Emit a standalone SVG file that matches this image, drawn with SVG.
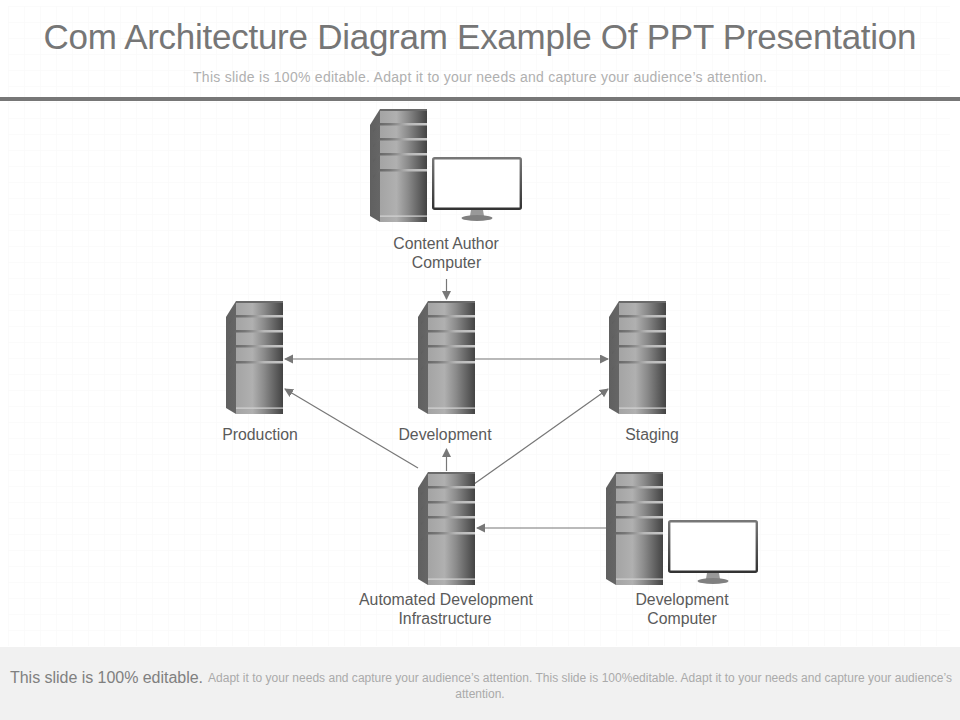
<svg xmlns="http://www.w3.org/2000/svg" xmlns:xlink="http://www.w3.org/1999/xlink" width="960" height="720" viewBox="0 0 960 720">
<style>
text{font-family:"Liberation Sans",Arial,sans-serif}
.label{font-size:15.800px;fill:#5a5a5a;text-anchor:middle}
.conn{stroke:#777;stroke-width:1.2;fill:none;marker-end:url(#arr)}
.band{fill:url(#bandG)}
.small{font-size:12px;fill:#aaa}
</style>
<defs>
<pattern id="grid" width="16" height="16" patternUnits="userSpaceOnUse" x="8" y="6">
<path d="M0 0H16M0 0V16" stroke="#f7f7f7" stroke-width="1" fill="none"/>
</pattern>
<marker id="arr" markerUnits="userSpaceOnUse" markerWidth="9" markerHeight="10" refX="8" refY="4.500" orient="auto">
<path d="M0 0L9 4.500L0 9Z" fill="#777"/>
</marker>
<linearGradient id="front" x1="0" x2="1" y1="0" y2="0">
<stop offset="0" stop-color="#a4a4a4"/><stop offset=".35" stop-color="#b0b0b0"/><stop offset=".6" stop-color="#8a8a8a"/><stop offset="1" stop-color="#434343"/>
</linearGradient>
<linearGradient id="side" x1="0" x2="1" y1="0" y2="0">
<stop offset="0" stop-color="#606060"/><stop offset="1" stop-color="#808080"/>
</linearGradient>
<linearGradient id="bandG" x1="0" x2="1" y1="0" y2="0">
<stop offset="0" stop-color="#5e5e5e"/><stop offset=".3" stop-color="#777"/><stop offset=".65" stop-color="#b8b8b8"/><stop offset="1" stop-color="#c8c8c8"/>
</linearGradient>
<linearGradient id="screenEdge" x1="0" x2="0" y1="0" y2="1">
<stop offset="0" stop-color="#777"/><stop offset="1" stop-color="#333"/>
</linearGradient>
<g id="server">
<path d="M10 0H57V113H10L0 107V16Z" fill="url(#side)"/>
<rect x="10" y="1" width="47" height="112" fill="url(#front)"/>
<path d="M10 0H57V2H10Z" fill="#6a6a6a"/>
<path class="band" d="M3 21L10 14H57V16.500H10L3 23.500Z"/>
<path class="band" d="M3 36L10 29H57V31.500H10L3 38.500Z"/>
<path class="band" d="M3 51L10 44H57V46.500H10L3 53.500Z"/>
<path class="band" d="M3 67L10 60H57V62.500H10L3 69.500Z"/>
<rect x="10" y="106.500" width="47" height="1.200" fill="#d4d4d4"/>
</g>
<g id="monitor">
<rect x="1.200" y="1.200" width="87.600" height="50.600" rx="1.500" fill="#fff" stroke="url(#screenEdge)" stroke-width="2.400"/>
<path d="M39 53H51L52 59H38Z" fill="#999"/>
<ellipse cx="45" cy="61" rx="15.500" ry="3" fill="#808080"/>
</g>
</defs>
<rect width="960" height="720" fill="#fff"/>
<rect x="8" y="6" width="942" height="640" fill="url(#grid)"/>
<text x="480" y="49" font-size="35" fill="#767676" text-anchor="middle" textLength="873" lengthAdjust="spacing">Com Architecture Diagram Example Of PPT Presentation</text>
<text x="480" y="82" font-size="14" fill="#b0b0b0" text-anchor="middle" textLength="574" lengthAdjust="spacing">This slide is 100% editable. Adapt it to your needs and capture your audience’s attention.</text>
<rect x="0" y="97" width="960" height="4" fill="#777"/>
<g id="connectors">
<path class="conn" d="M446.500 279V299"/>
<path class="conn" d="M418 359H285"/>
<path class="conn" d="M475 359H608"/>
<path class="conn" d="M418 468L285 389"/>
<path class="conn" d="M474 484L608 389"/>
<path class="conn" d="M446.500 471V449"/>
<path class="conn" d="M606 528H477"/>
</g>
<g id="node-content-author">
<use xlink:href="#server" x="370" y="109"/><use xlink:href="#monitor" x="432" y="157"/>
<text class="label" x="446" y="248.500">Content Author</text><text class="label" x="446.500" y="267.500">Computer</text>
</g>
<g id="node-production">
<use xlink:href="#server" x="226" y="301"/>
<text class="label" x="260" y="439.500">Production</text>
</g>
<g id="node-development">
<use xlink:href="#server" x="418" y="301"/>
<text class="label" x="445" y="439.500">Development</text>
</g>
<g id="node-staging">
<use xlink:href="#server" x="609" y="301"/>
<text class="label" x="652" y="439.500">Staging</text>
</g>
<g id="node-automated">
<use xlink:href="#server" x="418" y="472"/>
<text class="label" x="446" y="604.500">Automated Development</text><text class="label" x="445" y="623.500">Infrastructure</text>
</g>
<g id="node-dev-computer">
<use xlink:href="#server" x="606" y="472"/><use xlink:href="#monitor" x="668" y="520"/>
<text class="label" x="682" y="604.500">Development</text><text class="label" x="682" y="623.500">Computer</text>
</g>
<rect x="0" y="647" width="960" height="73" fill="#f1f1f1"/>
<text x="10" y="682.500" font-size="16" fill="#808080" textLength="193" lengthAdjust="spacing">This slide is 100% editable.</text>
<text class="small" x="208" y="682" textLength="744" lengthAdjust="spacing">Adapt it to your needs and capture your audience’s attention. This slide is 100%editable. Adapt it to your needs and capture your audience’s</text>
<text class="small" x="480" y="698" text-anchor="middle">attention.</text>
</svg>
